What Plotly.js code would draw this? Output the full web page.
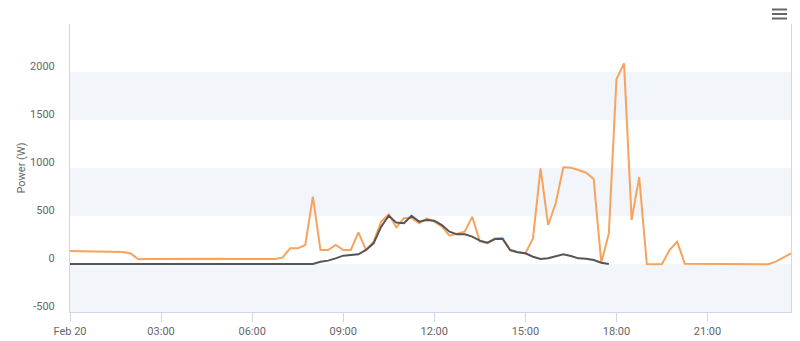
<!DOCTYPE html>
<html>
<head>
<meta charset="utf-8">
<script src="https://cdn.plot.ly/plotly-3.0.1.min.js"></script>
<style>html,body{margin:0;padding:0;background:#fff;}#chart{width:800px;height:341px;}</style>
</head>
<body>
<div id="chart"></div>
<script>
const day = "2024-02-20";
const times = [
"00:00","00:15","00:30","00:45","01:00","01:15","01:30","01:45",
"02:00","02:15","02:30","02:45","03:00","03:15","03:30","03:45",
"04:00","04:15","04:30","04:45","05:00","05:15","05:30","05:45",
"06:00","06:15","06:30","06:45","07:00","07:15","07:30","07:45",
"08:00","08:15","08:30","08:45","09:00","09:15","09:30","09:45",
"10:00","10:15","10:30","10:45","11:00","11:15","11:30","11:45",
"12:00","12:15","12:30","12:45","13:00","13:15","13:30","13:45",
"14:00","14:15","14:30","14:45","15:00","15:15","15:30","15:45",
"16:00","16:15","16:30","16:45","17:00","17:15","17:30","17:45",
"18:00","18:15","18:30","18:45","19:00","19:15","19:30","19:45",
"20:00","20:15","20:30","20:45","21:00","21:15","21:30","21:45",
"22:00","22:15","22:30","22:45","23:00","23:15","23:30","23:45"];

// orange series (W)
const consumption = [
135,133,132,130,130,128,126,124,
110,50,51,52,52,52,51,50,
52,52,51,53,54,52,53,52,
52,52,53,52,66,163,163,198,
701,146,146,198,146,146,330,146,
233,441,517,382,476,483,424,476,
441,389,295,319,337,493,236,218,
267,274,139,122,111,267,997,406,
632,1007,1003,979,951,885,14,319,
1924,2090,460,905,0,-2,0,146,
233,3,2,1,0,0,-1,-2,
-3,0,-2,-3,-2,24,66,111];

// dark series (W), 00:00 - 17:45
const production = [
0,0,0,0,0,0,0,0,
0,0,0,0,0,0,0,0,
0,0,0,0,0,0,0,0,
0,0,0,0,0,0,0,0,
0,24,35,59,87,94,101,146,
215,389,503,431,424,503,441,458,
451,406,337,309,309,285,243,222,
260,260,146,122,111,76,52,59,
83,101,83,59,55,42,14,0];

const xTickVals = ["00:00","03:00","06:00","09:00","12:00","15:00","18:00","21:00"];
const xTickText = ["Feb 20","03:00","06:00","09:00","12:00","15:00","18:00","21:00"];
const yTickVals = [-500,0,500,1000,1500,2000];
const yTickText = ["-500","0","500","1000","1500","2000"];
const bands = [[-500,0],[500,1000],[1500,2000]];

const ts = t => day + " " + t;
const xAll = times.map(ts);

const traces = [
  {x: xAll, y: consumption, type: "scatter", mode: "lines", name: "Consumption",
   line: {color: "#f7a35c", width: 2}, hoverinfo: "skip"},
  {x: xAll.slice(0, production.length), y: production, type: "scatter", mode: "lines", name: "Production",
   line: {color: "#555559", width: 2}, hoverinfo: "skip"}
];

const shapes = bands.map(b => ({type: "rect", xref: "paper", yref: "y", x0: 0, x1: 1, y0: b[0], y1: b[1],
  fillcolor: "#f2f6fa", line: {width: 0}, layer: "below"}));
[9.5, 14, 18.5].forEach(py => {
  shapes.push({type: "line", xref: "paper", yref: "paper",
    x0: (772 - 70) / 721, x1: (787 - 70) / 721,
    y0: (341 - 29 - py) / 288, y1: (341 - 29 - py) / 288,
    line: {color: "#666666", width: 2}});
});

const font = {family: "Roboto, Arial, sans-serif", size: 11, color: "#666666"};

const layout = {
  width: 800, height: 341,
  margin: {l: 70, r: 9, t: 24, b: 29, pad: 0},
  paper_bgcolor: "#ffffff", plot_bgcolor: "#ffffff",
  showlegend: false,
  font: font,
  xaxis: {
    type: "date",
    range: [ts("00:00"), ts("23:45")],
    tickvals: xTickVals.map(ts), ticktext: xTickText,
    ticks: "outside", ticklen: 9, tickcolor: "#ccd6eb", tickwidth: 1,
    showline: true, linecolor: "#ccd6eb", linewidth: 1,
    showgrid: false, zeroline: false,
    tickfont: font, fixedrange: true
  },
  yaxis: {
    range: [-500, 2500],
    tickvals: yTickVals, ticktext: yTickText,
    showgrid: false, zeroline: false,
    showline: true, mirror: true, linecolor: "#d6d6d6", linewidth: 1,
    ticks: "", ticklabelstandoff: 12, ticklabelshift: -6,
    tickfont: font,
    title: {text: "Power (W)", font: {family: "Roboto, Arial, sans-serif", size: 11, color: "#666666"}, standoff: 2},
    fixedrange: true
  },
  shapes: shapes
};

Plotly.newPlot("chart", traces, layout, {displayModeBar: false, staticPlot: true});
</script>
</body>
</html>
